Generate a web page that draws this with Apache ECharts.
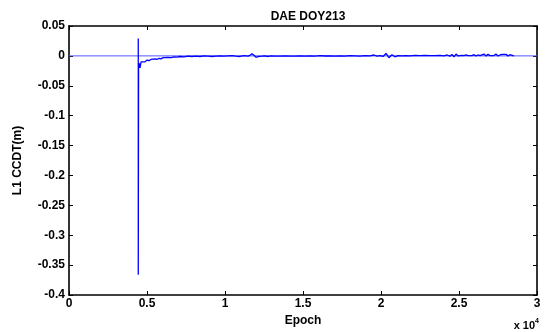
<!DOCTYPE html>
<html><head><meta charset="utf-8">
<script src="https://cdn.jsdelivr.net/npm/echarts@6/dist/echarts.min.js"></script>
<style>html,body{margin:0;padding:0;background:#fff}#c{width:553px;height:332px}</style>
</head><body><div id="c"></div>
<script>
const title = "DAE DOY213";
const xName = "Epoch";
const yName = "L1 CCDT(m)";
const xTicks = [0, 5000, 10000, 15000, 20000, 25000, 30000];
const yTicks = [-0.4, -0.35, -0.3, -0.25, -0.2, -0.15, -0.1, -0.05, 0, 0.05];
const zeroLineX = [0, 30000];
const zeroLineY = [0, 0];
const epochs = [4440, 4440, 4440, 4460, 4490, 4550, 4620, 4740, 4870, 5000, 5130, 5260, 5380, 5510, 5640, 5770, 5900, 6030, 6150, 6350, 6540, 6730, 6920, 7120, 7370, 7630, 7880, 8140, 8400, 8650, 8910, 9170, 9420, 9680, 9940, 10190, 10450, 10700, 10960, 11220, 11470, 11600, 11730, 11860, 11990, 12120, 12240, 12370, 12560, 12760, 12950, 13200, 13530, 13850, 14170, 14490, 14810, 15130, 15450, 15770, 16090, 16410, 16730, 17050, 17370, 17690, 18010, 18330, 18650, 18970, 19290, 19550, 19740, 19940, 20130, 20320, 20510, 20700, 20900, 21090, 21350, 21600, 21860, 22180, 22500, 22820, 23140, 23460, 23780, 24040, 24230, 24420, 24550, 24680, 24810, 24940, 25060, 25190, 25320, 25450, 25580, 25700, 25830, 25960, 26090, 26220, 26350, 26470, 26600, 26730, 26860, 26990, 27110, 27240, 27370, 27500, 27630, 27760, 27880, 28010, 28140, 28270, 28400, 28520];
const ccdt = [0, 0.029, -0.366, -0.018, -0.012, -0.020, -0.010, -0.009, -0.010, -0.007, -0.008, -0.006, -0.007, -0.005, -0.006, -0.004, -0.005, -0.003, -0.004, -0.0025, -0.003, -0.0015, -0.002, -0.001, -0.0015, -0.0005, -0.001, -0.0005, -0.001, 0, -0.0005, -0.001, -0.0005, 0, -0.0005, 0, 0.0005, -0.0005, -0.001, 0.0005, -0.0005, 0.001, 0.0035, 0.001, -0.0025, -0.001, 0.0005, -0.0005, 0, -0.001, 0, -0.0005, -0.0005, 0, -0.0005, -0.0003, 0, -0.0005, 0, -0.0003, 0.0003, -0.0002, 0, -0.0005, 0, -0.0003, 0.0003, 0, -0.0005, 0.0005, 0, 0.0015, -0.0005, 0.0005, -0.001, 0.004, -0.003, 0.002, -0.0015, 0.0005, 0, 0.0005, 0, 0.001, 0.0003, 0.0008, 0.0005, 0.0003, 0.001, 0, 0.0015, -0.0005, 0.0025, -0.0015, 0.003, 0, 0.002, 0.001, 0.0005, 0.0015, 0.0005, 0.001, 0.0005, 0.002, 0, 0.0015, 0.0005, 0.001, 0.003, 0, 0.0025, 0.0005, 0.002, 0.0005, 0.003, 0, 0.0015, 0.0025, 0.0005, 0.0025, 0, 0.002, 0.001, 0];

const font = "'Liberation Sans', Arial, sans-serif";
const chart = echarts.init(document.getElementById('c'), null, {renderer: 'canvas'});
const gl = 69, gt = 26, gw = 468, gh = 271;
const lbl = {color: '#000', fontFamily: font, fontWeight: 'bold', fontSize: 12};
const axisLine = {show: true, onZero: false, lineStyle: {color: '#000', width: 1.6}};
const tick = {show: true, inside: true, length: 4, lineStyle: {color: '#000', width: 1}};
chart.setOption({
  animation: false,
  backgroundColor: '#fff',
  title: {text: title, left: gl + gw / 2, top: 6, textAlign: 'center',
    textStyle: {fontFamily: font, fontWeight: 'bold', fontSize: 12, color: '#000'}},
  grid: {left: gl, top: gt, width: gw, height: gh, containLabel: false},
  xAxis: [{
    type: 'value', min: xTicks[0], max: xTicks[xTicks.length - 1], interval: 5000,
    position: 'bottom', axisLine: axisLine, axisTick: tick, splitLine: {show: false},
    axisLabel: Object.assign({margin: 3, formatter: v => String(v / 10000)}, lbl),
    name: xName, nameLocation: 'middle', nameGap: 20, nameTextStyle: lbl
  }, {
    type: 'value', min: xTicks[0], max: xTicks[xTicks.length - 1], interval: 5000,
    position: 'top', axisLine: axisLine, axisTick: tick, splitLine: {show: false},
    axisLabel: {show: false}
  }],
  yAxis: [{
    type: 'value', min: yTicks[0], max: yTicks[yTicks.length - 1], interval: 0.05,
    position: 'left', axisLine: axisLine, axisTick: tick, splitLine: {show: false},
    axisLabel: Object.assign({margin: 4, formatter: v => String(+v.toFixed(2))}, lbl),
    name: yName, nameLocation: 'middle', nameGap: 45, nameRotate: 90, nameTextStyle: lbl
  }, {
    type: 'value', min: yTicks[0], max: yTicks[yTicks.length - 1], interval: 0.05,
    position: 'right', axisLine: axisLine, axisTick: tick, splitLine: {show: false},
    axisLabel: {show: false}
  }],
  graphic: [{
    type: 'text', right: 14, top: 318,
    style: {text: '{a|x 10}{b|4}', rich: {
      a: {fontFamily: font, fontWeight: 'bold', fontSize: 11, color: '#000', verticalAlign: 'bottom'},
      b: {fontFamily: font, fontWeight: 'bold', fontSize: 7, color: '#000', verticalAlign: 'top', padding: [0, 0, 6, 0]}
    }}
  }],
  series: [{
    type: 'line', data: zeroLineX.map((x, i) => [x, zeroLineY[i]]), showSymbol: false, silent: true,
    lineStyle: {color: '#5555ff', width: 1}, z: 1
  }, {
    type: 'line', data: epochs.map((x, i) => [x, ccdt[i]]), showSymbol: false,
    lineStyle: {color: '#0000ff', width: 1.3}, z: 2
  }]
});
</script></body></html>
